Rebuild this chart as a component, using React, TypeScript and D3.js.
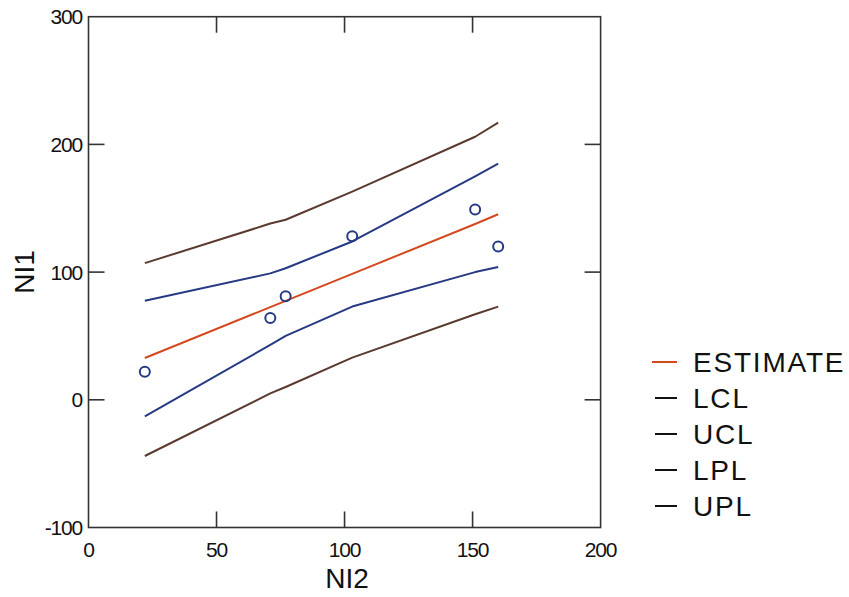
import React, { useEffect, useRef } from "react";
import * as d3 from "d3";

// Observed data
const ni2Obs = [22, 71, 77, 103, 151, 160];
const ni1Obs = [22, 64, 81, 128, 149, 120];

// Fitted band evaluated at the sorted NI2 values
const fitX = [22, 71, 77, 103, 151, 160];
const estimate = [32.7, 72.6, 77.5, 98.6, 137.7, 145.3];
const lcl = [-13, 43, 50, 73, 100, 104];
const ucl = [77.5, 99, 103, 124, 175, 185];
const lpl = [-44, 5, 10, 33, 67, 73];
const upl = [107, 138, 141, 163, 206, 217];

const xTicks = [0, 50, 100, 150, 200];
const yTicks = [-100, 0, 100, 200, 300];

const legendItems = ["ESTIMATE", "LCL", "UCL", "LPL", "UPL"];

const W = 849;
const H = 597;
const FONT = "'Liberation Sans', Arial, Helvetica, sans-serif";

export default function App() {
  const ref = useRef<SVGSVGElement | null>(null);

  useEffect(() => {
    const svg = d3.select(ref.current);
    svg.selectAll("*").remove();

    const left = 88.5, right = 600.6, top = 16.7, bottom = 527.5;
    const x = d3.scaleLinear().domain([0, 200]).range([left, right]);
    const y = d3.scaleLinear().domain([-100, 300]).range([bottom, top]);

    const frame = "#333";
    const tickLen = 16;

    // Plot frame
    svg.append("rect")
      .attr("x", left).attr("y", top)
      .attr("width", right - left).attr("height", bottom - top)
      .attr("fill", "none").attr("stroke", frame).attr("stroke-width", 1.6);

    // Inward ticks on all four sides
    const innerX = xTicks.filter((t) => t > 0 && t < 200);
    const innerY = yTicks.filter((t) => t > -100 && t < 300);
    const tg = svg.append("g").attr("stroke", frame).attr("stroke-width", 1.6);
    innerX.forEach((t) => {
      tg.append("line").attr("x1", x(t)).attr("x2", x(t)).attr("y1", bottom).attr("y2", bottom - tickLen);
      tg.append("line").attr("x1", x(t)).attr("x2", x(t)).attr("y1", top).attr("y2", top + tickLen);
    });
    innerY.forEach((t) => {
      tg.append("line").attr("y1", y(t)).attr("y2", y(t)).attr("x1", left).attr("x2", left + tickLen);
      tg.append("line").attr("y1", y(t)).attr("y2", y(t)).attr("x1", right).attr("x2", right - tickLen);
    });

    // Tick labels
    svg.append("g").selectAll("text").data(xTicks).join("text")
      .attr("x", (d) => x(d)).attr("y", 557)
      .attr("text-anchor", "middle")
      .attr("font-family", FONT).attr("font-size", 21)
      .attr("letter-spacing", -1.2)
      .attr("fill", "#111")
      .text((d) => String(d));

    svg.append("g").selectAll("text").data(yTicks).join("text")
      .attr("x", 82).attr("y", (d) => y(d))
      .attr("dy", "0.36em")
      .attr("text-anchor", "end")
      .attr("font-family", FONT).attr("font-size", 21)
      .attr("letter-spacing", -1.2)
      .attr("fill", "#111")
      .text((d) => String(d));

    // Axis titles
    svg.append("text")
      .attr("x", 347).attr("y", 588)
      .attr("text-anchor", "middle")
      .attr("font-family", FONT).attr("font-size", 28)
      .attr("fill", "#111")
      .text("NI2");

    svg.append("text")
      .attr("transform", "translate(34,272) rotate(-90)")
      .attr("text-anchor", "middle")
      .attr("font-family", FONT).attr("font-size", 28)
      .attr("fill", "#111")
      .text("NI1");

    // Lines
    const line = d3.line<number>()
      .x((_, i) => x(fitX[i]))
      .y((d) => y(d));

    const series: { values: number[]; color: string }[] = [
      { values: upl, color: "#5a3a2e" },
      { values: lpl, color: "#5a3a2e" },
      { values: ucl, color: "#263a84" },
      { values: lcl, color: "#263a84" },
      { values: estimate, color: "#d4481e" },
    ];
    series.forEach((s) => {
      svg.append("path")
        .datum(s.values)
        .attr("d", line)
        .attr("fill", "none")
        .attr("stroke", s.color)
        .attr("stroke-width", 2)
        .attr("stroke-linejoin", "round");
    });

    // Observations
    svg.append("g").selectAll("circle").data(ni2Obs).join("circle")
      .attr("cx", (d) => x(d))
      .attr("cy", (_, i) => y(ni1Obs[i]))
      .attr("r", 5)
      .attr("fill", "none")
      .attr("stroke", "#263a84")
      .attr("stroke-width", 2);

    // Legend
    const lg = svg.append("g");
    legendItems.forEach((name, i) => {
      const cy = 362 + i * 36;
      lg.append("line")
        .attr("x1", i === 0 ? 652 : 655).attr("x2", 677)
        .attr("y1", cy).attr("y2", cy)
        .attr("stroke", i === 0 ? "#d4481e" : "#111")
        .attr("stroke-width", 2);
      lg.append("text")
        .attr("x", 693).attr("y", cy + 10)
        .attr("font-family", FONT).attr("font-size", 28)
        .attr("letter-spacing", 1.8)
        .attr("fill", "#111")
        .text(name);
    });
  }, []);

  return (
    <div style={{ position: "absolute", left: 0, top: 0 }}>
      <svg ref={ref} width={W} height={H} style={{ display: "block", background: "#fff" }} />
    </div>
  );
}
